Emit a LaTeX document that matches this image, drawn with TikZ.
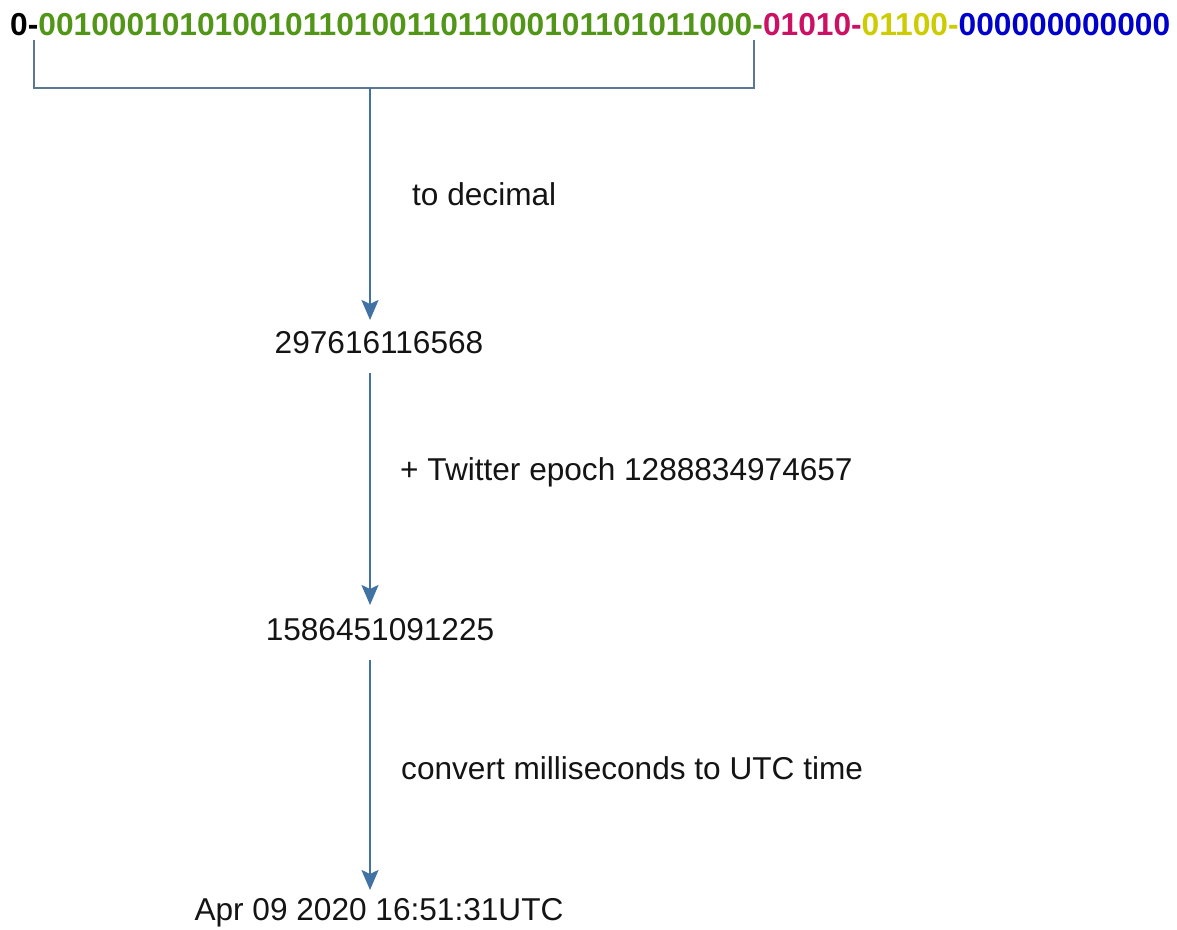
\documentclass[tikz,border=0pt]{standalone}
\usepackage{fontspec}
\setmainfont{Liberation Sans}
\usetikzlibrary{arrows.meta}
\definecolor{cgreen}{RGB}{82,150,24}
\definecolor{cmag}{RGB}{204,16,100}
\definecolor{cyel}{RGB}{204,204,0}
\definecolor{cblue}{RGB}{0,0,204}
\definecolor{carrow}{RGB}{64,114,163}
\definecolor{cbrk}{RGB}{90,120,145}
\definecolor{ctext}{RGB}{20,20,20}
\begin{document}
\begin{tikzpicture}[x=1pt,y=-1pt,
  lbl/.style={inner sep=0pt, font=\fontsize{31.6}{36}\selectfont, text=ctext},
  arr/.style={draw=carrow, line width=2pt, -{Stealth[length=20pt,width=17pt,inset=4pt]}},
  brk/.style={draw=cbrk, line width=2pt}]
\useasboundingbox[fill=white] (0,0) rectangle (1177,929);
\node[anchor=base west, inner sep=0pt, font=\fontsize{31.7}{36}\selectfont\bfseries] (bits) at (10,35)
  {\textcolor{black}{0-}\textcolor{cgreen}{00100010101001011010011011000101101011000-}\textcolor{cmag}{01010-}\textcolor{cyel}{01100-}\textcolor{cblue}{000000000000}};
\coordinate (bl) at (34,40);
\coordinate (br) at (754,40);
\coordinate (bm) at (370,88);
\draw[brk] (bl) |- (bm) -| (br);
\node[lbl, anchor=base] (n1) at (379,353) {297616116568};
\node[lbl, anchor=base] (n2) at (380,640) {1586451091225};
\node[lbl, anchor=base] (n3) at (379,920) {Apr 09 2020 16:51:31UTC};
\node[lbl, anchor=base west] (l1) at (412,205) {to decimal};
\node[lbl, anchor=base west] (l2) at (400,480) {+ Twitter epoch 1288834974657};
\node[lbl, anchor=base west] (l3) at (401,779) {convert milliseconds to UTC time};
\coordinate (t1) at ([yshift=33pt]n1.base -| bm);
\coordinate (s2) at ([yshift=-20pt]n1.base -| bm);
\coordinate (t2) at ([yshift=35pt]n2.base -| bm);
\coordinate (s3) at ([yshift=-20pt]n2.base -| bm);
\coordinate (t3) at ([yshift=30pt]n3.base -| bm);
\draw[arr] (bm) -- (t1);
\draw[arr] (s2) -- (t2);
\draw[arr] (s3) -- (t3);
\end{tikzpicture}
\end{document}
